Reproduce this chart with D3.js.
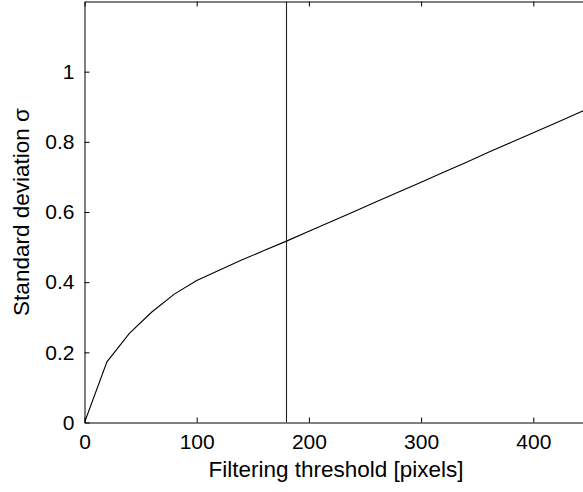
<!DOCTYPE html>
<html>
<head>
<meta charset="utf-8">
<script src="https://cdn.jsdelivr.net/npm/d3@7"></script>
<style>
  html, body { margin: 0; padding: 0; background: #fff; overflow: hidden; }
  text { font-family: "Liberation Sans", Arial, Helvetica, sans-serif; fill: #000; }
</style>
</head>
<body>
<svg id="chart" width="583" height="492"></svg>
<script>
// Data
const thresholds = [0, 20, 40, 60, 80, 100, 120, 140, 160, 180, 200, 220, 240, 260, 280, 300, 320, 340, 360, 380, 400, 420, 440, 460];
const sigmaValues = [0, 0.173, 0.254, 0.315, 0.366, 0.405, 0.434, 0.463, 0.490, 0.517, 0.545, 0.573, 0.601, 0.629, 0.657, 0.685, 0.713, 0.741, 0.770, 0.798, 0.826, 0.854, 0.882, 0.910];
const markerThreshold = [180];
const xTicks = [0, 100, 200, 300, 400];
const yTicks = [0, 0.2, 0.4, 0.6, 0.8, 1];
const xDomain = [0, 500];
const yDomain = [0, 1.2];

(function () {
const svg = d3.select("#chart");
const mLeft = 84.5, mTop = 1.5, mBottom = 422.5;
const mRight = mLeft + 561; // axis extends past the visible window

const x = d3.scaleLinear().domain(xDomain).range([mLeft, mRight]);
const y = d3.scaleLinear().domain(yDomain).range([mBottom, mTop]);

svg.append("defs").append("clipPath").attr("id", "plotclip")
  .append("rect").attr("x", mLeft).attr("y", mTop).attr("width", mRight - mLeft).attr("height", mBottom - mTop);

const data = thresholds.map((t, i) => ({ t, s: sigmaValues[i] }));

const plot = svg.append("g").attr("clip-path", "url(#plotclip)");

plot.append("path")
  .datum(data)
  .attr("fill", "none")
  .attr("stroke", "#000")
  .attr("stroke-width", 1.1)
  .attr("d", d3.line().x(d => x(d.t)).y(d => y(d.s)));

plot.selectAll("line.marker").data(markerThreshold).enter().append("line")
  .attr("class", "marker")
  .attr("x1", d => Math.round(x(d)) + 0.5).attr("x2", d => Math.round(x(d)) + 0.5)
  .attr("y1", y(yDomain[0])).attr("y2", y(yDomain[1]))
  .attr("stroke", "#222").attr("stroke-width", 1.1);

// Bottom axis
const xAxis = d3.axisBottom(x).tickValues(xTicks).tickSizeInner(-5).tickSizeOuter(0).tickPadding(12).tickFormat(d3.format("d"));
const gx = svg.append("g").attr("transform", `translate(0,${mBottom})`).call(xAxis);
gx.select(".domain").attr("stroke", "#000");
gx.selectAll(".tick line").attr("stroke", "#000");
gx.selectAll("text").attr("font-size", "21px").attr("font-family", "Liberation Sans, Arial, sans-serif").attr("fill", "#000");

// Top axis (ticks only)
const xAxisTop = d3.axisTop(x).tickValues(xTicks).tickSizeInner(-5).tickSizeOuter(0).tickFormat("");
const gxt = svg.append("g").attr("transform", `translate(0,${mTop})`).call(xAxisTop);
gxt.select(".domain").attr("stroke", "#000");
gxt.selectAll(".tick line").attr("stroke", "#000");

// Left axis
const yAxis = d3.axisLeft(y).tickValues(yTicks).tickSizeInner(-5).tickSizeOuter(0).tickPadding(10).tickFormat(d => d === 0 ? "0" : d === 1 ? "1" : d3.format(".1f")(d));
const gy = svg.append("g").attr("transform", `translate(${mLeft},0)`).call(yAxis);
gy.select(".domain").attr("stroke", "#000");
gy.selectAll(".tick line").attr("stroke", "#000");
gy.selectAll("text").attr("font-size", "21px").attr("font-family", "Liberation Sans, Arial, sans-serif").attr("fill", "#000");

// Axis labels
svg.append("text")
  .attr("x", 336).attr("y", 477)
  .attr("text-anchor", "middle")
  .attr("font-size", "22.5px")
  .text("Filtering threshold [pixels]");

svg.append("text")
  .attr("transform", `translate(29,${(mTop + mBottom) / 2}) rotate(-90)`)
  .attr("text-anchor", "middle")
  .attr("font-size", "22.5px")
  .text("Standard deviation σ");
})();
</script>
</body>
</html>
